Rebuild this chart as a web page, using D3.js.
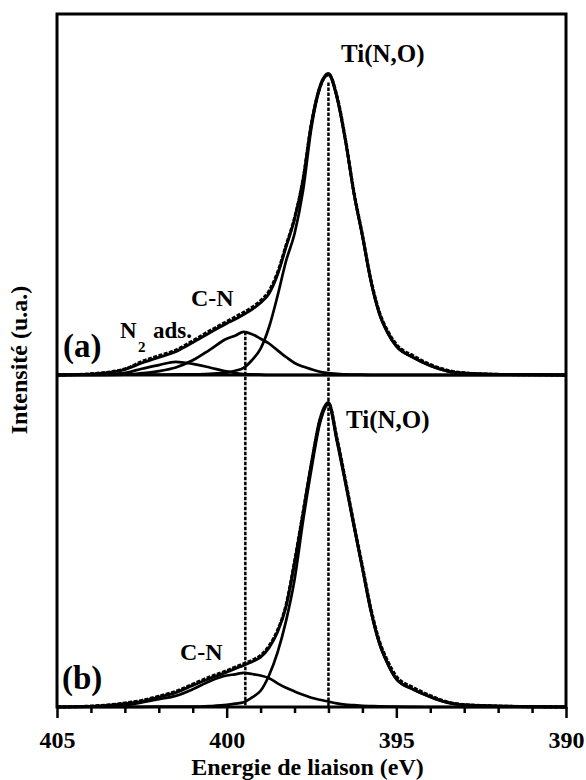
<!DOCTYPE html>
<html>
<head>
<meta charset="utf-8">
<script src="https://cdn.jsdelivr.net/npm/d3@7"></script>
<style>
  html, body { margin: 0; padding: 0; background: #fff; }
  svg { display: block; }
  text { font-family: "Liberation Serif", "Times New Roman", serif; font-weight: bold; fill: #000; }
</style>
</head>
<body>
<div id="chart"></div>
<script>
// ---------------- data ----------------
const energy = [405, 404, 403, 402.5, 402, 401.5, 401, 400.5, 400, 399.75, 399.5, 399.25, 399, 398.75, 398.5, 398.25, 398, 397.75, 397.5, 397.25, 397, 396.75, 396.5, 396.25, 396, 395.75, 395.5, 395.25, 395, 394.5, 394, 393.5, 393, 392, 391, 390];

// panel (a)
const expA = [0, 0.4, 2.0, 4.5, 6.4, 8.3, 11.4, 14.7, 17.8, 19.3, 20.9, 22.6, 24.8, 28.0, 34.2, 43.2, 52.3, 65.2, 84.0, 96.0, 100.3, 93.0, 78.6, 61.0, 46.8, 31.8, 21.0, 14.6, 10.2, 6.4, 3.5, 1.6, 0.7, 0.2, 0.1, 0];
const fitA = [0, 0.3, 1.9, 4.0, 5.9, 7.8, 10.8, 14.1, 17.2, 18.6, 20.2, 21.9, 24.1, 27.2, 33.5, 42.7, 52.0, 65.0, 84.0, 96.3, 100.5, 92.7, 78.3, 60.7, 46.4, 31.4, 20.5, 14.0, 9.6, 5.8, 3.1, 1.3, 0.6, 0.2, 0.1, 0];
const tiA  = [0, 0, 0.1, 0.1, 0.1, 0.2, 0.2, 0.4, 0.8, 1.4, 2.4, 5.0, 8.8, 16.0, 26.4, 38.0, 47.1, 61.4, 82.6, 95.7, 100, 92.4, 78.1, 60.5, 46.3, 31.3, 20.4, 13.9, 9.6, 5.8, 3.1, 1.3, 0.6, 0.2, 0.1, 0];
const cnA  = [0, 0, 0.1, 0.6, 1.3, 2.5, 4.9, 8.4, 12.1, 13.1, 14.4, 13.6, 12.1, 10.5, 8.2, 6.0, 4.0, 2.8, 1.9, 1.1, 0.6, 0.4, 0.2, 0.15, 0.1, 0, 0, 0, 0, 0, 0, 0, 0, 0, 0, 0];
const n2A  = [0, 0.1, 0.7, 2.1, 3.3, 4.4, 3.7, 2.5, 1.2, 0.7, 0.3, 0.2, 0.1, 0, 0, 0, 0, 0, 0, 0, 0, 0, 0, 0, 0, 0, 0, 0, 0, 0, 0, 0, 0, 0, 0, 0];

// panel (b)
const expB = [0, 0.3, 1.3, 2.2, 3.6, 5.2, 7.6, 10.0, 12.1, 13.3, 14.4, 15.6, 17.2, 20.4, 25.6, 34.0, 48.5, 64.8, 81.2, 95.5, 101.2, 89.6, 75.6, 61.0, 47.0, 32.8, 22.0, 15.2, 10.2, 6.5, 3.8, 1.7, 0.8, 0.3, 0.1, 0];
const fitB = [0, 0.2, 1.1, 1.9, 3.3, 4.8, 7.2, 9.5, 11.6, 12.8, 13.9, 15.1, 16.6, 19.8, 25.0, 33.5, 48.0, 64.5, 81.5, 96.0, 101.5, 89.2, 75.2, 60.6, 46.4, 32.2, 21.3, 14.4, 9.4, 5.9, 3.4, 1.5, 0.7, 0.3, 0.1, 0];
const tiB  = [0, 0, 0, 0.05, 0.1, 0.1, 0.1, 0.3, 0.7, 1.1, 1.6, 3.2, 5.4, 10.6, 18.2, 28.7, 42.4, 61.9, 79.4, 94.6, 100.8, 88.4, 74.5, 60.2, 46.1, 31.9, 21.1, 14.2, 9.3, 5.8, 3.4, 1.5, 0.7, 0.3, 0.1, 0];
const cnB  = [0, 0.1, 0.5, 1.5, 2.6, 3.7, 5.9, 8.6, 10.5, 10.9, 11.4, 11.0, 10.5, 9.6, 7.9, 6.4, 5.2, 4.1, 3.1, 2.4, 1.8, 1.2, 0.8, 0.6, 0.4, 0.3, 0.2, 0.15, 0.1, 0.05, 0, 0, 0, 0, 0, 0];

// reference positions (eV) of the dotted guide lines and their starting heights in panel (a)
const guideEnergies = [399.45, 397.0];
const guideTopsA = [14.4, 97.5];

const majorTicks = [405, 400, 395, 390];
const minorTicks = [404, 403, 402, 401, 399, 398, 397, 396, 394, 393, 392, 391];

const xTitle = "Energie de liaison (eV)";
const yTitle = "Intensité (u.a.)";

// ---------------- layout ----------------
const W = 586, H = 780;
const plotL = 57, plotR = 566, plotT = 14, plotMid = 375, plotB = 707;
const pxPerUnit = 3;

const svg = d3.select("#chart").append("svg").attr("width", W).attr("height", H);

const x = d3.scaleLinear().domain([405, 390]).range([plotL, plotR]);
const yA = d3.scaleLinear().domain([0, (plotMid - plotT) / pxPerUnit]).range([plotMid, plotT]);
const yB = d3.scaleLinear().domain([0, (plotB - plotMid) / pxPerUnit]).range([plotB, plotMid]);

function lineFor(y) {
  return d3.line().x((d, i) => x(energy[i])).y(d => y(d)).curve(d3.curveMonotoneX);
}

const g = svg.append("g");

// dotted guides
const guides = g.append("g");
guideEnergies.forEach((e, i) => {
  guides.append("line")
    .attr("x1", x(e)).attr("x2", x(e))
    .attr("y1", yA(guideTopsA[i])).attr("y2", plotB)
    .attr("stroke", "#000").attr("stroke-width", 2.5)
    .attr("stroke-dasharray", "3.5,1.5");
});

// curves
function drawPanel(y, comps, fit, exp) {
  const ln = lineFor(y);
  comps.forEach(c => {
    g.append("path").datum(c).attr("d", ln)
      .attr("fill", "none").attr("stroke", "#000").attr("stroke-width", 2.7)
      .attr("stroke-linejoin", "round");
  });
  g.append("path").datum(fit).attr("d", ln)
    .attr("fill", "none").attr("stroke", "#000").attr("stroke-width", 2.9)
    .attr("stroke-linejoin", "round");
  g.append("path").datum(exp).attr("d", ln)
    .attr("fill", "none").attr("stroke", "#000").attr("stroke-width", 3.1)
    .attr("stroke-dasharray", "4,1.5");
}
drawPanel(yA, [tiA, cnA, n2A], fitA, expA);
drawPanel(yB, [tiB, cnB], fitB, expB);

// frame and separator
svg.append("rect")
  .attr("x", plotL).attr("y", plotT).attr("width", plotR - plotL).attr("height", plotB - plotT)
  .attr("fill", "none").attr("stroke", "#000").attr("stroke-width", 3);
svg.append("line")
  .attr("x1", plotL).attr("x2", plotR).attr("y1", plotMid).attr("y2", plotMid)
  .attr("stroke", "#000").attr("stroke-width", 3);

// x axis
const axMajor = svg.append("g").attr("transform", `translate(0,${plotB})`)
  .call(d3.axisBottom(x).tickValues(majorTicks).tickSize(11).tickFormat(d3.format("d")));
axMajor.select(".domain").remove();
axMajor.selectAll(".tick line").attr("stroke", "#000").attr("stroke-width", 2.5);
axMajor.selectAll(".tick text")
  .attr("y", 41).attr("dy", null)
  .style("font-family", '"Liberation Serif", "Times New Roman", serif')
  .style("font-weight", "bold").style("font-size", "24px").attr("fill", "#000");

const axMinor = svg.append("g").attr("transform", `translate(0,${plotB})`)
  .call(d3.axisBottom(x).tickValues(minorTicks).tickSize(6).tickFormat(""));
axMinor.select(".domain").remove();
axMinor.selectAll(".tick line").attr("stroke", "#000").attr("stroke-width", 2.5);

// titles
svg.append("text").attr("x", (plotL + plotR) / 2 - 4).attr("y", 775)
  .attr("text-anchor", "middle").style("font-size", "24px").text(xTitle);
svg.append("text").attr("transform", "translate(27,360) rotate(-90)")
  .attr("text-anchor", "middle").style("font-size", "24px").text(yTitle);

// annotations
svg.append("text").attr("x", 63).attr("y", 357).style("font-size", "33px").text("(a)");
svg.append("text").attr("x", 62).attr("y", 689).style("font-size", "33px").text("(b)");

svg.append("text").attr("x", 341).attr("y", 62).style("font-size", "25px").text("Ti(N,O)");
svg.append("text").attr("x", 346).attr("y", 428).style("font-size", "25px").text("Ti(N,O)");

svg.append("text").attr("x", 191).attr("y", 306).style("font-size", "24px").text("C-N");
svg.append("text").attr("x", 180).attr("y", 660).style("font-size", "24px").text("C-N");

const n2 = svg.append("text").attr("y", 338).style("font-size", "23px");
n2.append("tspan").attr("x", 120).text("N");
n2.append("tspan").attr("x", 138).attr("y", 352).style("font-size", "15px").text("2");
n2.append("tspan").attr("x", 153).attr("y", 338).text("ads.");
</script>
</body>
</html>
